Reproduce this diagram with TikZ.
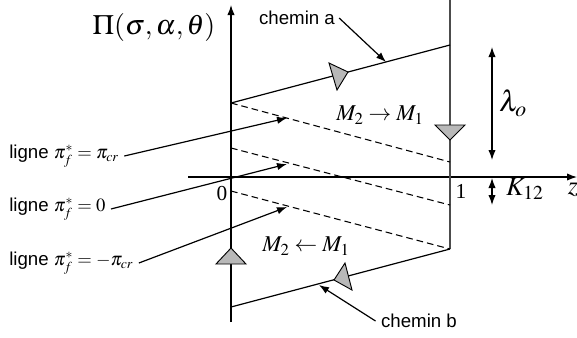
\documentclass[tikz,border=0pt]{standalone}
\usepackage{mathptmx}
\usepackage{fontspec}
\setmainfont{Liberation Serif}
\newfontfamily\sansf{Liberation Sans}
\usetikzlibrary{arrows.meta,calc}
\begin{document}
\begin{tikzpicture}[x=0.75pt,y=-0.75pt,
  tipA/.tip={Latex[length=7.5pt,width=5.5pt]},
  ax/.style={line width=0.9pt,-tipA},
  ln/.style={line width=0.9pt},
  ptr/.style={line width=0.9pt,-tipA},
  dbl/.style={line width=0.9pt,tipA-tipA},
  dsh/.style={line width=0.8pt,dash pattern=on 5pt off 3pt},
  marker/.style={fill=black!28,draw=black,line width=0.7pt,line join=miter},
  lab/.style={font=\sansf\fontsize{14}{16}\selectfont,inner sep=0pt},
  mth/.style={inner sep=0pt}]
\useasboundingbox (0,0) rectangle (577,337);

% key points
\coordinate (vb) at (231,322);
\coordinate (vt) at (231,5);
\coordinate (hl) at (188,177);
\coordinate (hr) at (577,177);
\coordinate (r0) at (450,0);
\coordinate (r1) at (450,249);
\coordinate (a0) at (231,103);
\coordinate (a1) at (450,45);
\coordinate (d1s) at (231,103);
\coordinate (d1e) at (450,162);
\coordinate (d2s) at (231,148);
\coordinate (d2e) at (450,205);
\coordinate (d3s) at (231,191);
\coordinate (d3e) at (450,249);
\coordinate (b0) at (231,307);
\coordinate (b1) at (450,249);

% axes
\draw[ax] (vb) -- (vt);
\draw[ax] (hl) -- (hr);
\draw[ln,draw=black!70] (r0) -- (r1);

% paths
\draw[ln] (a0) -- (a1);
\draw[ln] (b0) -- (b1);
\draw[dsh] (d1s) -- (d1e);
\draw[dsh] (d2s) -- (d2e);
\draw[dsh] (d3s) -- (d3e);

% gray direction markers
\filldraw[marker] (348,72) -- (329,63) -- (337,90) -- cycle;
\filldraw[marker] (334,280) -- (345,263) -- (352,290) -- cycle;
\filldraw[marker] (450,140) -- (435,125) -- (465,125) -- cycle;
\filldraw[marker] (231,248) -- (216,264) -- (246,264) -- cycle;

% labels
\node[mth,font=\fontsize{21}{25}\selectfont] (pi) at (154,27) {$\Pi(\sigma,\alpha,\theta)$};
\node[lab] (ca) at (297,18) {chemin a};
\node[lab] (cb) at (419,321) {chemin b};
\coordinate (catip) at (386,62);
\coordinate (cbtip) at (319,285);
\draw[ptr] ([xshift=3]ca.east) -- (catip);
\draw[ptr] ([xshift=-4]cb.west) -- (cbtip);

\node[mth,font=\fontsize{17}{20}\selectfont] (m21) at (380,115) {$M_2 \rightarrow M_1$};
\node[mth,font=\fontsize{17}{20}\selectfont] (m12) at (306,246) {$M_2 \leftarrow M_1$};

\node[mth,font=\fontsize{16}{18}\selectfont] (zero) at (222,194) {0};
\node[mth,font=\fontsize{16}{18}\selectfont] (one) at (461,191) {1};
\node[mth,font=\fontsize{20}{24}\selectfont] (zlab) at (573,190) {$z$};

\coordinate (lt) at (492,47);
\coordinate (lb) at (492,160);
\draw[dbl] (lt) -- (lb);
\node[mth,font=\fontsize{22}{26}\selectfont] (lam) at (513,103) {$\lambda_o$};
\coordinate (kt) at (492,178);
\coordinate (kb) at (492,205);
\draw[dbl] (kt) -- (kb);
\node[mth,font=\fontsize{20}{24}\selectfont] (k12) at (525,189) {$K_{12}$};

% ligne labels
\node[lab,anchor=west] (l1) at (9,156) {ligne $\pi^{*}_{f}=\pi_{cr}$};
\node[lab,anchor=west] (l2) at (9,209) {ligne $\pi^{*}_{f}=0$};
\node[lab,anchor=west] (l3) at (9,263) {ligne $\pi^{*}_{f}=-\pi_{cr}$};
\coordinate (t1) at (287,118);
\coordinate (t2) at (287,164);
\coordinate (t3) at (287,207);
\draw[ptr] ([xshift=4]l1.east) -- (t1);
\draw[ptr] ([xshift=4]l2.east) -- (t2);
\draw[ptr] ([xshift=4]l3.east) -- (t3);
\end{tikzpicture}
\end{document}
